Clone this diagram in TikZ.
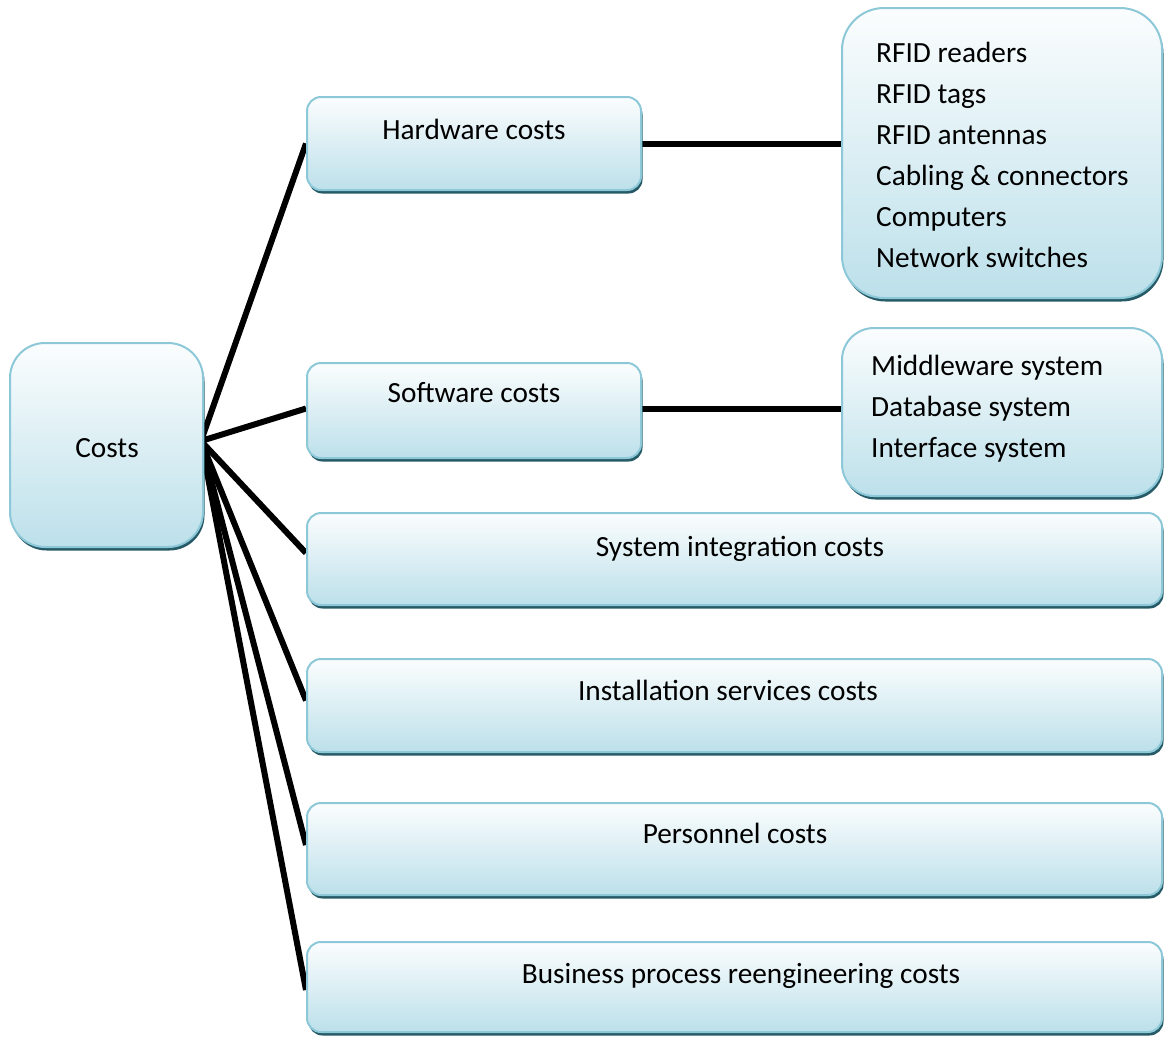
\documentclass[tikz,border=0pt]{standalone}
\usepackage{fontspec}
\setmainfont{Carlito}
\usetikzlibrary{shadows,backgrounds}
\definecolor{boxedge}{RGB}{140,200,216}
\definecolor{boxbot}{RGB}{182,221,232}
\definecolor{boxshadow}{RGB}{38,90,102}
\pgfdeclareverticalshading{boxfill}{100bp}{color(0bp)=(boxbot); color(20bp)=(boxbot); color(78bp)=(white); color(100bp)=(white)}
\begin{document}
\begin{tikzpicture}[x=1pt,y=-1pt,
  box/.style={draw=boxedge, line width=2pt, shading=boxfill, inner sep=0pt,
    drop shadow={shadow xshift=1.5pt, shadow yshift=-3.5pt, fill=boxshadow, opacity=1}},
  lbl/.style={font=\fontsize{29.3}{35}\selectfont, inner sep=0pt, anchor=base},
  item/.style={lbl, anchor=base west},
  link/.style={line width=6pt, black}]
\useasboundingbox (0,0) rectangle (1164,1036);

% boxes
\node[box, rounded corners=35pt, minimum width=193pt, minimum height=204pt] (costs) at (106.5,445) {};
\node[box, rounded corners=14pt, minimum width=334pt, minimum height=93pt] (hw) at (474,143.5) {};
\node[box, rounded corners=42pt, minimum width=320pt, minimum height=290pt] (rfid) at (1002,153) {};
\node[box, rounded corners=14pt, minimum width=334pt, minimum height=95pt] (sw) at (474,410.5) {};
\node[box, rounded corners=32pt, minimum width=320pt, minimum height=168pt] (mw) at (1002,412) {};
\node[box, rounded corners=14pt, minimum width=855pt, minimum height=92pt] (si) at (734.5,559) {};
\node[box, rounded corners=14pt, minimum width=855pt, minimum height=93pt] (inst) at (734.5,705.5) {};
\node[box, rounded corners=14pt, minimum width=855pt, minimum height=92pt] (pers) at (734.5,849) {};
\node[box, rounded corners=14pt, minimum width=855pt, minimum height=90pt] (bus) at (734.5,987) {};

% labels
\node[lbl] (costsT) at (107,457) {Costs};
\node[lbl] (hwT) at (474,139) {Hardware costs};
\node[lbl] (swT) at (474,402) {Software costs};
\node[lbl] (siT) at (740,556) {System integration costs};
\node[lbl] (instT) at (728,700) {Installation services costs};
\node[lbl] (persT) at (735,843) {Personnel costs};
\node[lbl] (busT) at (741,983) {Business process reengineering costs};

\node[item] (r1) at (876,62) {RFID readers};
\node[item] (r2) at (876,103) {RFID tags};
\node[item] (r3) at (876,144) {RFID antennas};
\node[item] (r4) at (876,185) {Cabling \& connectors};
\node[item] (r5) at (876,226) {Computers};
\node[item] (r6) at (876,267) {Network switches};

\node[item] (m1) at (871,375) {Middleware system};
\node[item] (m2) at (871,416) {Database system};
\node[item] (m3) at (871,457) {Interface system};

% connectors
\coordinate (hub) at (201,441);
\begin{scope}[on background layer]
  \draw[link] (hub) -- (hw.west);
  \draw[link] (hub) -- ([yshift=2pt]sw.west);
  \draw[link] (hub) -- ([yshift=6pt]si.west);
  \draw[link] (hub) -- ([yshift=5pt]inst.west);
  \draw[link] (hub) -- ([yshift=4pt]pers.west);
  \draw[link] (hub) -- ([yshift=-3pt]bus.west);
  \draw[link] (hw.east) -- (hw.east -| rfid.west);
  \draw[link] ([yshift=2pt]sw.east) -- ([yshift=2pt]sw.east -| mw.west);
\end{scope}
\end{tikzpicture}
\end{document}
